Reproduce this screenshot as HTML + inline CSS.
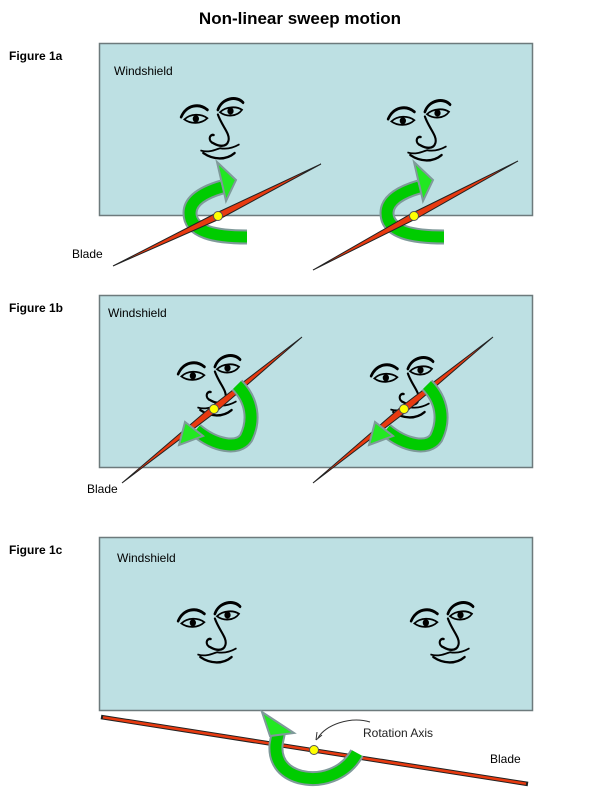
<!DOCTYPE html>
<html><head><meta charset="utf-8"><style>
body{margin:0;background:#fff;width:600px;height:800px;overflow:hidden}
svg{display:block}
text{font-family:"Liberation Sans",sans-serif}
</style></head><body>
<svg width="600" height="800" viewBox="0 0 600 800">
<defs>
<g id="face" fill="none" stroke="#000" stroke-linecap="round" transform="scale(1.05,1.2)">
<path d="M3,20 C8,10 20,8 28,14" stroke-width="2.5"/>
<path d="M6,22 C12,17 22,17 28,21 C22,26 12,26 6,22Z" stroke-width="1.5"/>
<circle cx="17" cy="21.5" r="2.5" fill="#000"/>
<path d="M38,14 C42,4 56,2 62,8" stroke-width="2.5"/>
<path d="M40,16 C46,11 56,11 61,14 C56,20 46,20 40,16Z" stroke-width="1.5"/>
<circle cx="50" cy="15" r="2.5" fill="#000"/>
<path d="M38,18 C42,28 50,34 48,40 C46,46 38,44 34,42 C28,40 30,34 34,35" stroke-width="2"/>
<path d="M22,48 C30,50 36,47 40,46 C46,47 52,46 58,43" stroke-width="1.5"/>
<path d="M24,50 C34,56 46,56 54,50" stroke-width="2"/>
</g>
</defs>
<text x="300" y="24" font-size="17" font-weight="bold" text-anchor="middle">Non-linear sweep motion</text>
<text x="9" y="60" font-size="12" font-weight="bold">Figure 1a</text>
<text x="9" y="312" font-size="12" font-weight="bold">Figure 1b</text>
<text x="9" y="554" font-size="12" font-weight="bold">Figure 1c</text>

<rect x="99.5" y="43.5" width="433" height="172" fill="#bde0e3" stroke="#6d7a7c" stroke-width="1.5"/>
<rect x="99.5" y="295.5" width="433" height="172" fill="#bde0e3" stroke="#6d7a7c" stroke-width="1.5"/>
<rect x="99.5" y="537.5" width="433" height="173" fill="#bde0e3" stroke="#6d7a7c" stroke-width="1.5"/>

<text x="114" y="75" font-size="12">Windshield</text>
<text x="108" y="317" font-size="12">Windshield</text>
<text x="117" y="562" font-size="12">Windshield</text>

<use href="#face" x="178" y="93"/>
<use href="#face" x="385" y="95"/>
<use href="#face" x="175" y="350"/>
<use href="#face" x="368" y="352"/>
<use href="#face" x="175" y="597"/>
<use href="#face" x="408" y="597"/>

<!-- 1a -->
<g>
<path d="M247,237 C215,237 190,232 190,213 C190,200 205,192 222,187" fill="none" stroke="#7f9a9a" stroke-width="15"/>
<path d="M247,237 C215,237 190,232 190,213 C190,200 205,192 222,187" fill="none" stroke="#00cc00" stroke-width="11"/>
<polygon points="217,162 236,180 226,201" fill="#22e822" stroke="#7f9a9a" stroke-width="2"/>
<polygon points="113,266 216.4,213 321,164 219.6,219" fill="#e83a10" stroke="#222" stroke-width="1"/>
<circle cx="218" cy="216" r="4.5" fill="#ffff00" stroke="#555"/>
<path d="M444,237 C412,237 387,232 387,213 C387,200 402,192 419,187" fill="none" stroke="#7f9a9a" stroke-width="15"/>
<path d="M444,237 C412,237 387,232 387,213 C387,200 402,192 419,187" fill="none" stroke="#00cc00" stroke-width="11"/>
<polygon points="414,162 433,180 423,201" fill="#22e822" stroke="#7f9a9a" stroke-width="2"/>
<polygon points="313,270 412.5,213 518,161 415.5,219" fill="#e83a10" stroke="#222" stroke-width="1"/>
<circle cx="414" cy="216" r="4.5" fill="#ffff00" stroke="#555"/>
</g>
<text x="72" y="258" font-size="12">Blade</text>

<!-- 1b -->
<g>
<polygon points="122,483 211.5,406.5 302,337 216.5,411.5" fill="#e83a10" stroke="#222" stroke-width="1"/>
<path d="M237,385 C252,400 255,420 246,438 C238,450 215,446 196,430" fill="none" stroke="#7f9a9a" stroke-width="15"/>
<path d="M237,385 C252,400 255,420 246,438 C238,450 215,446 196,430" fill="none" stroke="#00cc00" stroke-width="11"/>
<polygon points="179,445 185,422 203,436" fill="#22e822" stroke="#7f9a9a" stroke-width="2"/>
<circle cx="214" cy="409" r="4.5" fill="#ffff00" stroke="#555"/>
<polygon points="313,483 401.5,406.5 493,337 406.5,411.5" fill="#e83a10" stroke="#222" stroke-width="1"/>
<path d="M427,385 C442,400 445,420 436,438 C428,450 405,446 386,430" fill="none" stroke="#7f9a9a" stroke-width="15"/>
<path d="M427,385 C442,400 445,420 436,438 C428,450 405,446 386,430" fill="none" stroke="#00cc00" stroke-width="11"/>
<polygon points="369,445 375,422 393,436" fill="#22e822" stroke="#7f9a9a" stroke-width="2"/>
<circle cx="404" cy="409" r="4.5" fill="#ffff00" stroke="#555"/>
</g>
<text x="87" y="493" font-size="12">Blade</text>

<!-- 1c -->
<g>
<line x1="101" y1="717" x2="528" y2="784" stroke="#222" stroke-width="4.5"/>
<line x1="103" y1="717.3" x2="526" y2="783.7" stroke="#e83a10" stroke-width="2.5"/>
<path d="M357,753 C345,775 320,782 300,777 C282,772 275,760 276,745 C277,738 279,732 279,728" fill="none" stroke="#7f9a9a" stroke-width="15"/>
<path d="M357,753 C345,775 320,782 300,777 C282,772 275,760 276,745 C277,738 279,732 279,728" fill="none" stroke="#00cc00" stroke-width="11"/>
<polygon points="262,712 294,733 270,736" fill="#22e822" stroke="#7f9a9a" stroke-width="2"/>
<circle cx="314" cy="750" r="4.5" fill="#ffff00" stroke="#555"/>
<path d="M370,722 C350,716 325,725 318,738" fill="none" stroke="#333" stroke-width="1"/>
<path d="M316,740 L317,732 M316,740 L322,735" stroke="#333" stroke-width="1"/>
</g>
<text x="363" y="737" font-size="12" fill="#222">Rotation Axis</text>
<text x="490" y="763" font-size="12">Blade</text>
</svg>
</body></html>
